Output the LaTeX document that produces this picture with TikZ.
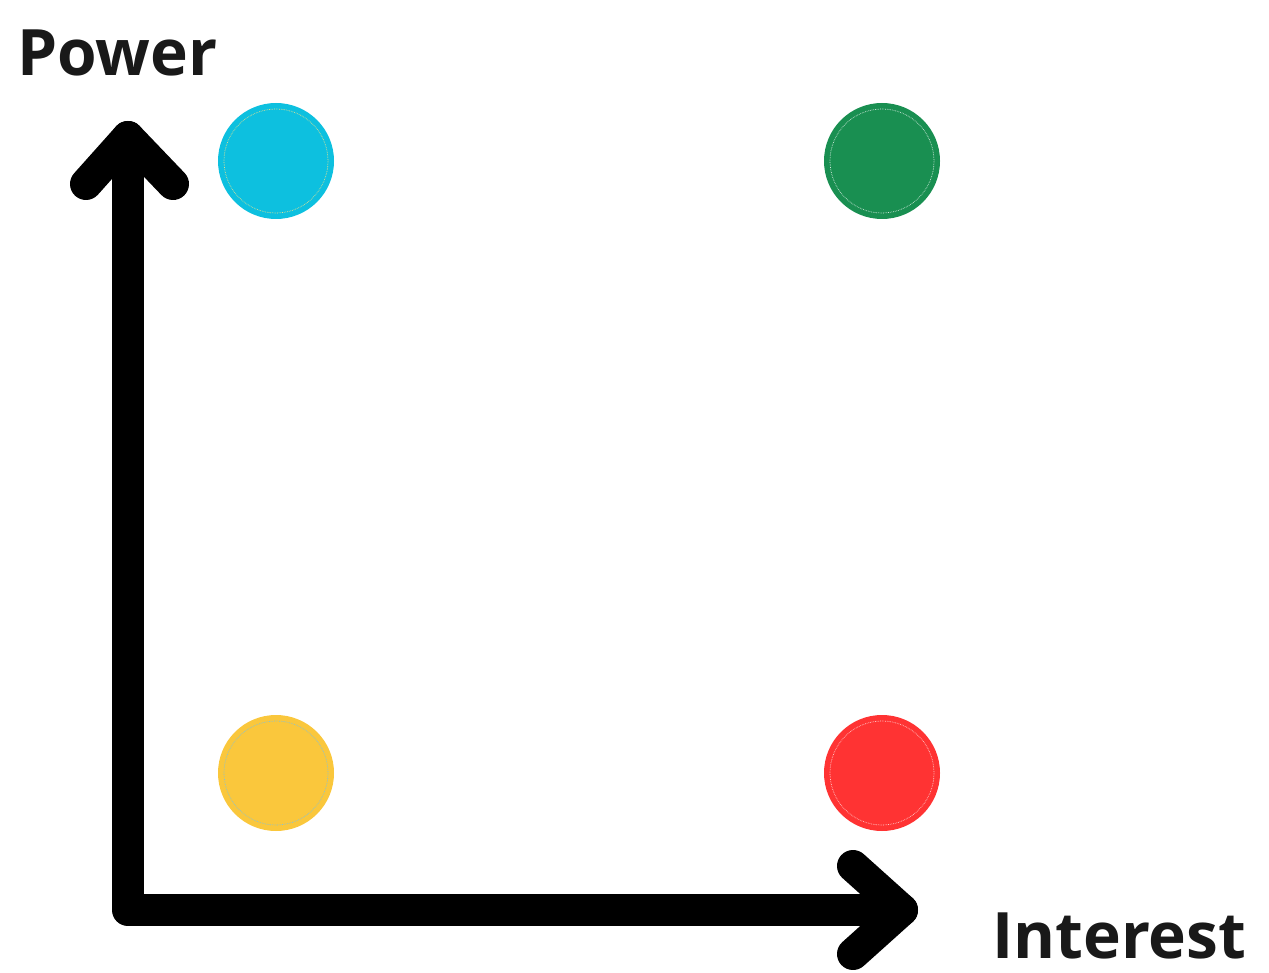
\documentclass[tikz,border=0pt]{standalone}
\usepackage{fontspec}
\setmainfont{Open Sans}
\begin{document}
\begin{tikzpicture}[x=1pt,y=-1pt,
  axis/.style={line width=32pt, line cap=round, line join=round, black},
  dot/.style={circle, minimum size=116pt, inner sep=0pt, draw=none},
  ring/.style={draw=#1, densely dotted, line width=0.7pt},
  lbl/.style={font=\fontsize{64}{64}\selectfont\bfseries, text=black!90, inner sep=0pt, anchor=base west}]
\useasboundingbox (0,0) rectangle (1269,973);
\definecolor{cyanc}{HTML}{0DC0DF}
\definecolor{greenc}{HTML}{198F51}
\definecolor{yellowc}{HTML}{FAC73C}
\definecolor{redc}{HTML}{FF3333}
% axes
\coordinate (origin) at (128,910);
\coordinate (ytip) at (128,137);
\coordinate (xtip) at (902,910);
\coordinate (yl) at (86,184);
\coordinate (yr) at (173,184);
\coordinate (xu) at (853,866);
\coordinate (xd) at (853,954);
\draw[axis] (ytip) -- (origin) -- (xtip);
\draw[axis] (yl) -- (ytip) -- (yr);
\draw[axis] (xu) -- (xtip) -- (xd);
% circles
\node[dot, fill=cyanc] (c1) at (276,161) {};
\node[dot, fill=greenc] (c2) at (882,161) {};
\node[dot, fill=yellowc] (c3) at (276,773) {};
\node[dot, fill=redc] (c4) at (882,773) {};
\draw[ring=yellow!60!gray!60] (c1.center) circle (52);
\draw[ring=white!80!greenc] (c2.center) circle (52);
\draw[ring=cyan!60!gray!70] (c3.center) circle (52);
\draw[ring=white!75!redc] (c4.center) circle (52);
% labels
\node[lbl] (power) at (17,76) {Power};
\node[lbl] (interest) at (992,958) {Interest};
\end{tikzpicture}
\end{document}
